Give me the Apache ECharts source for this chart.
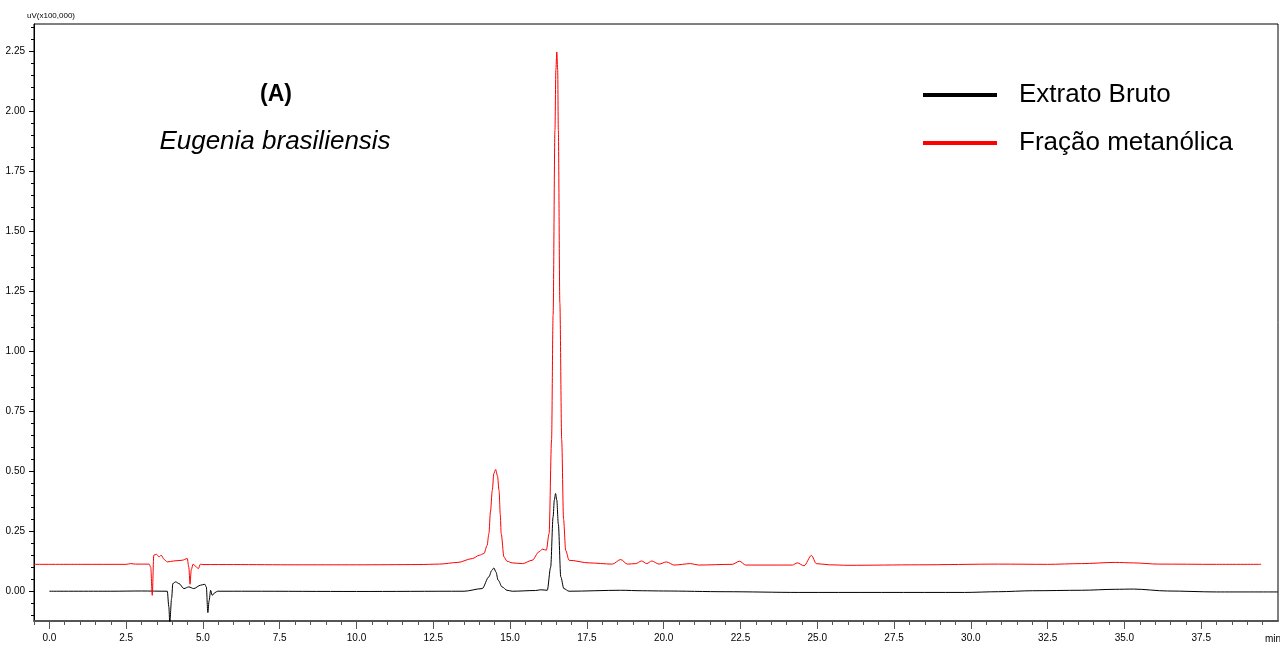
<!DOCTYPE html>
<html>
<head>
<meta charset="utf-8">
<title>Eugenia brasiliensis</title>
<script src="https://cdn.jsdelivr.net/npm/echarts@6/dist/echarts.min.js"></script>
<style>
    html, body { margin: 0; padding: 0; background: #fff; }
    #chart { width: 1280px; height: 648px; }
</style>
</head>
<body>
<div id="chart"></div>
<script>
// Extrato Bruto (preto)
var brutoTime = [0.0, 2.0, 3.0, 3.84, 3.89, 3.92, 3.98, 4.02, 4.11, 4.22, 4.38, 4.54, 4.70, 4.92, 5.06, 5.11,
    5.16, 5.20, 5.25, 5.30, 5.39, 5.47, 6.5, 10.0, 13.5, 14.09, 14.31, 14.40, 14.47, 14.54, 14.61, 14.74, 14.9, 15.07,
    15.83, 16.0, 16.21, 16.32, 16.40, 16.44, 16.48, 16.52, 16.57, 16.65, 16.75, 16.92, 18.6, 19.3, 20.0, 22.0, 24.4,
    29.8, 30.9, 32.0, 33.6, 34.7, 35.3, 36.4, 38.0, 40.0];
var brutoSignal = [0.0, 0.0, 0.001, 0.0, -0.065, -0.13, -0.03, 0.032, 0.039, 0.032, 0.011, 0.018, 0.011, 0.025, 0.029, 0.018,
    -0.089, -0.04, 0.004, -0.017, -0.006, 0.0, 0.0, -0.001, 0.0, 0.011, 0.06, 0.086, 0.097, 0.08, 0.046, 0.018, 0.004, 0.0,
    0.003, 0.006, 0.004, 0.10, 0.31, 0.38, 0.407, 0.38, 0.28, 0.06, 0.011, 0.0, 0.004, 0.002, 0.001, -0.002, -0.005,
    -0.005, -0.002, 0.002, 0.004, 0.008, 0.009, 0.001, -0.003, -0.003];

// Fração metanólica (vermelho)
var metanolTime = [-0.5, 1.0, 2.5, 2.65, 2.8, 3.25, 3.3, 3.35, 3.40, 3.49, 3.57, 3.64, 3.74, 3.84, 4.05, 4.32,
    4.49, 4.54, 4.58, 4.62, 4.68, 4.76, 4.85, 4.92, 5.0, 6.0, 8.0, 10.0, 12.0, 12.7, 13.3, 13.77,
    14.0, 14.15, 14.25, 14.31, 14.36, 14.42, 14.47, 14.53, 14.59, 14.64, 14.68, 14.71, 14.80, 14.9, 15.07, 15.40, 15.72, 15.94, 16.05, 16.18,
    16.27, 16.35, 16.40, 16.46, 16.49, 16.52, 16.55, 16.57, 16.62, 16.68, 16.74, 16.81, 16.92, 17.57, 18.33, 18.60,
    18.82, 19.09, 19.28, 19.45, 19.61, 19.85, 20.09, 20.34, 20.88, 21.14, 22.23, 22.47, 22.67, 24.19,
    24.35, 24.57, 24.81, 24.97, 25.4, 26.0, 28.3, 30.9, 32.5, 33.6, 34.7, 35.3, 36.1, 38.0, 39.45];
var metanolSignal = [0.112, 0.112, 0.112, 0.115, 0.113, 0.113, 0.10, -0.017, 0.15, 0.154, 0.143, 0.15, 0.132, 0.122, 0.126, 0.129,
    0.136, 0.10, 0.029, 0.09, 0.113, 0.104, 0.094, 0.113, 0.111, 0.111, 0.110, 0.110, 0.111, 0.113, 0.120, 0.136,
    0.150, 0.157, 0.19, 0.24, 0.33, 0.42, 0.49, 0.507, 0.48, 0.42, 0.32, 0.24, 0.143, 0.125, 0.118, 0.115, 0.129, 0.164, 0.175, 0.171,
    0.24, 0.63, 1.15, 1.92, 2.17, 2.246, 2.17, 1.92, 1.2, 0.63, 0.30, 0.17, 0.129, 0.118, 0.113, 0.132,
    0.113, 0.115, 0.126, 0.115, 0.126, 0.113, 0.122, 0.109, 0.115, 0.109, 0.112, 0.125, 0.109, 0.109,
    0.118, 0.106, 0.149, 0.115, 0.110, 0.108, 0.110, 0.113, 0.112, 0.115, 0.120, 0.118, 0.113, 0.112, 0.112];

var xMajorTicks = [0, 2.5, 5, 7.5, 10, 12.5, 15, 17.5, 20, 22.5, 25, 27.5, 30, 32.5, 35, 37.5];
var yMajorTicks = [0, 0.25, 0.5, 0.75, 1.0, 1.25, 1.5, 1.75, 2.0, 2.25];
var xMinorTicks = [];
for (var i = -1; i <= 79; i++) xMinorTicks.push(i * 0.5);
var yMinorTicks = [];
for (var j = -2; j <= 47; j++) yMinorTicks.push(Math.round(j * 5) / 100);

function pairs(xs, ys) {
    var out = [];
    for (var k = 0; k < xs.length; k++) out.push([xs[k], ys[k]]);
    return out;
}

var narrow = "'Liberation Sans Narrow', 'Arial Narrow', 'Liberation Sans', sans-serif";
var arial = "'Liberation Sans', Arial, sans-serif";
var xMin = -0.5, xMax = 40, yMin = -0.124, yMax = 2.3625;

var chart = echarts.init(document.getElementById('chart'), null, { renderer: 'canvas' });
var option = {
    animation: false,
    backgroundColor: '#fff',
    grid: {
        left: 34, right: 2, top: 24, bottom: 27,
        show: true, borderColor: '#000', borderWidth: 1
    },
    title: [
        { text: '(A)', left: 276, top: 83, textAlign: 'center', padding: 0,
          textStyle: { fontFamily: arial, fontSize: 23, fontWeight: 'bold', color: '#000' } },
        { text: 'Eugenia brasiliensis', left: 275, top: 129, textAlign: 'center', padding: 0,
          textStyle: { fontFamily: arial, fontSize: 26, fontStyle: 'italic', fontWeight: 'normal', color: '#000' } },
        { text: 'uV(x100,000)', left: 27, top: 12, padding: 0,
          textStyle: { fontFamily: narrow, fontSize: 8, fontWeight: 'normal', color: '#000' } },
        { text: 'min', left: 1265, top: 634, padding: 0,
          textStyle: { fontFamily: narrow, fontSize: 10, fontWeight: 'normal', color: '#000' } }
    ],
    legend: {
        orient: 'vertical',
        left: 923, top: 82, padding: 0,
        itemGap: 22,
        icon: 'rect',
        itemWidth: 74, itemHeight: 4,
        textStyle: { fontFamily: arial, fontSize: 26, color: '#000', padding: [0, 0, 0, 17] },
        data: ['Extrato Bruto', 'Fração metanólica']
    },
    xAxis: [
        {
            type: 'value', min: xMin, max: xMax, position: 'bottom',
            splitLine: { show: false },
            axisLine: { show: true, onZero: false, lineStyle: { color: '#555', width: 2 } },
            axisTick: { show: true, customValues: xMajorTicks, length: 8, lineStyle: { color: '#555' } },
            axisLabel: {
                customValues: xMajorTicks, margin: 12,
                fontFamily: narrow, fontSize: 10, color: '#000',
                formatter: function (v) { return v.toFixed(1); }
            }
        },
        {
            type: 'value', min: xMin, max: xMax, position: 'bottom',
            splitLine: { show: false },
            axisLine: { show: false, onZero: false },
            axisTick: { show: true, customValues: xMinorTicks, length: 4, lineStyle: { color: '#555' } },
            axisLabel: { show: false }
        }
    ],
    yAxis: [
        {
            type: 'value', min: yMin, max: yMax, position: 'left',
            splitLine: { show: false },
            axisLine: { show: true, onZero: false, lineStyle: { color: '#000', width: 1 } },
            axisTick: { show: true, customValues: yMajorTicks, length: 5, lineStyle: { color: '#000' } },
            axisLabel: {
                customValues: yMajorTicks, margin: 9,
                fontFamily: narrow, fontSize: 10, color: '#000',
                formatter: function (v) { return v.toFixed(2); }
            }
        },
        {
            type: 'value', min: yMin, max: yMax, position: 'left',
            splitLine: { show: false },
            axisLine: { show: false, onZero: false },
            axisTick: { show: true, customValues: yMinorTicks, length: 3, lineStyle: { color: '#000' } },
            axisLabel: { show: false }
        }
    ],
    series: [
        {
            name: 'Extrato Bruto', type: 'line',
            xAxisIndex: 0, yAxisIndex: 0,
            showSymbol: false, smooth: 0.3, smoothMonotone: 'x',
            itemStyle: { color: '#000' },
            lineStyle: { color: '#000', width: 1 },
            data: pairs(brutoTime, brutoSignal)
        },
        {
            name: 'Fração metanólica', type: 'line',
            xAxisIndex: 0, yAxisIndex: 0,
            showSymbol: false, smooth: 0.3, smoothMonotone: 'x',
            itemStyle: { color: '#ff0000' },
            lineStyle: { color: '#ff0000', width: 1 },
            data: pairs(metanolTime, metanolSignal)
        }
    ]
};
chart.setOption(option);
</script>
</body>
</html>
